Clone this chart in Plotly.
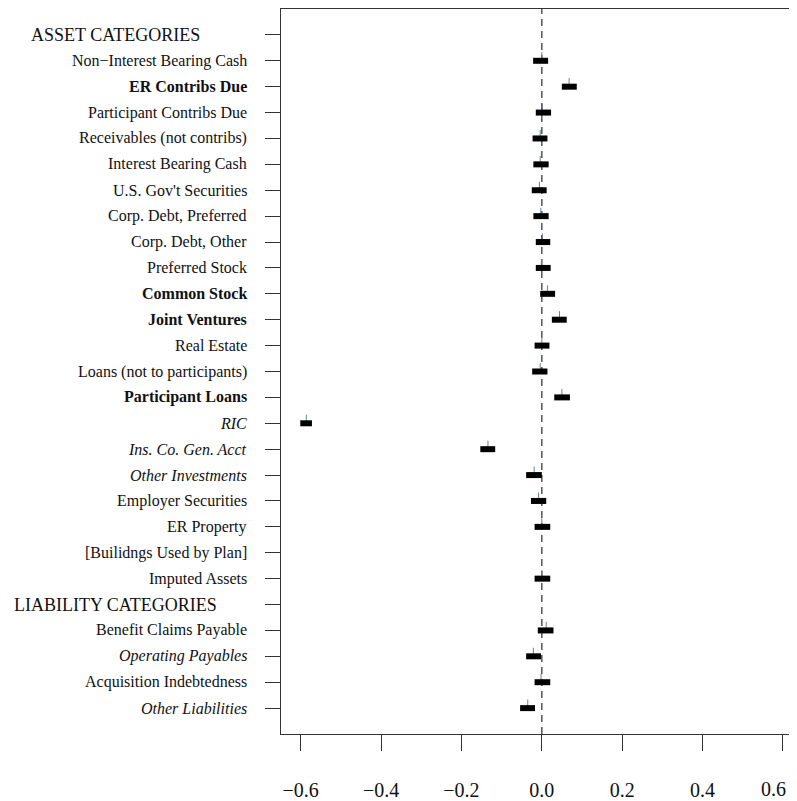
import plotly.graph_objects as go

labels = [
    "ASSET CATEGORIES", "Non−Interest Bearing Cash", "ER Contribs Due",
    "Participant Contribs Due", "Receivables (not contribs)", "Interest Bearing Cash",
    "U.S. Gov't Securities", "Corp. Debt, Preferred", "Corp. Debt, Other",
    "Preferred Stock", "Common Stock", "Joint Ventures", "Real Estate",
    "Loans (not to participants)", "Participant Loans", "RIC",
    "Ins. Co. Gen. Acct", "Other Investments", "Employer Securities",
    "ER Property", "[Builidngs Used by Plan]", "Imputed Assets",
    "LIABILITY CATEGORIES", "Benefit Claims Payable", "Operating Payables",
    "Acquisition Indebtedness", "Other Liabilities",
]
styles = [
    "header", "n", "b", "n", "n", "n", "n", "n", "n", "n", "b", "b", "n", "n", "b",
    "i", "i", "i", "n", "n", "n", "n", "header", "n", "i", "n", "i",
]
estimate = [None, 0.0, 0.068, 0.0015, -0.004, -0.004, -0.006, -0.0025, 0.0015, -0.001,
            0.014, 0.044, 0.0, -0.004, 0.050, -0.586, -0.134, -0.019, -0.008, 0.0,
            None, 0.0, None, 0.011, -0.021, -0.002, -0.035]
lower = [None, -0.0216, 0.0498, -0.015, -0.023, -0.021, -0.025, -0.021, -0.015, -0.015,
         -0.004, 0.025, -0.018, -0.024, 0.031, -0.601, -0.153, -0.039, -0.027, -0.018,
         None, -0.018, None, -0.010, -0.039, -0.018, -0.054]
upper = [None, 0.0157, 0.087, 0.023, 0.014, 0.017, 0.012, 0.017, 0.021, 0.022,
         0.033, 0.062, 0.019, 0.014, 0.070, -0.572, -0.116, 0.0, 0.011, 0.021,
         None, 0.021, None, 0.029, -0.002, 0.021, -0.017]
x_ticks = [-0.6, -0.4, -0.2, 0.0, 0.2, 0.4, 0.6]
x_ticktext = ["−0.6", "−0.4", "−0.2", "0.0", "0.2", "0.4", "0.6"]

n = len(labels)
pos = [n - i for i in range(n)]

# page body has an 8px margin; the figure is drawn from (8, 8)
OFF = 8
VISIBLE_RIGHT = 789  # the right-most page pixels are not shown
W, H = 797 - OFF, 801 - OFF
ML, MR, MT, MB = 281 - OFF, 0, 0, 62
pw = W - ML - MR
ph = H - MT - MB

FONT = "Liberation Serif, Times New Roman, serif"
TICKLEN, STANDOFF, TICKFS = 16, 22, 20

bx, by, tx, ty = [], [], [], []
for p, e, lo, hi in zip(pos, estimate, lower, upper):
    if e is None:
        continue
    bx += [lo, hi, None]
    by += [p, p, None]
    tx += [e, e, None]
    ty += [p, p + 0.33, None]

fig = go.Figure()
fig.add_trace(go.Scatter(x=tx, y=ty, mode="lines",
                         line=dict(color="#6f7f98", width=1), hoverinfo="skip"))
fig.add_trace(go.Scatter(x=bx, y=by, mode="lines",
                         line=dict(color="black", width=6), hoverinfo="skip"))

fig.add_shape(type="line", x0=0, x1=0, y0=0, y1=n + 1, xref="x", yref="y",
              line=dict(color="#555555", width=1.5, dash="7px,5px"), layer="below")

annotations = []
for p, lab, st in zip(pos, labels, styles):
    if st == "header":
        left_px = 29 if lab.startswith("ASSET") else 12
        annotations.append(dict(x=(left_px - OFF - ML) / pw, y=p, xref="paper", yref="y",
                                text=lab, showarrow=False, xanchor="left", yanchor="middle",
                                font=dict(family=FONT, size=18, color="#111111")))
    else:
        t = lab
        if st == "b":
            t = "<b>" + lab + "</b>"
        elif st == "i":
            t = "<i>" + lab + "</i>"
        annotations.append(dict(x=(249 - OFF - ML) / pw, y=p, xref="paper", yref="y",
                                text=t, showarrow=False, xanchor="right", yanchor="middle",
                                font=dict(family=FONT, size=16, color="#111111")))

# the last x tick label would be cut at the visible edge: draw it as an
# annotation pulled just inside the visible area
shown_ticktext = x_ticktext[:-1] + [""]
annotations.append(dict(x=(VISIBLE_RIGHT - 1 - OFF - ML) / pw, y=0, xref="paper", yref="paper",
                        text=x_ticktext[-1], showarrow=False, xanchor="right", yanchor="top",
                        yshift=-(TICKLEN + STANDOFF + 4),
                        font=dict(family=FONT, size=TICKFS, color="#111111")))

fig.update_layout(
    width=W, height=H, autosize=False,
    margin=dict(l=ML, r=MR, t=MT, b=MB, pad=0),
    paper_bgcolor="white", plot_bgcolor="white",
    showlegend=False,
    font=dict(family=FONT, color="#111111"),
    annotations=annotations,
    xaxis=dict(range=[-0.649, 0.635], tickvals=x_ticks, ticktext=shown_ticktext,
               ticks="outside", ticklen=TICKLEN, tickwidth=1, tickcolor="#333333",
               showline=True, linecolor="#333333", linewidth=1, mirror=True,
               showgrid=False, zeroline=False, ticklabelstandoff=STANDOFF,
               tickfont=dict(family=FONT, size=TICKFS, color="#111111")),
    yaxis=dict(range=[0, n + 1], tickvals=pos, showticklabels=False,
               ticks="outside", ticklen=15, tickwidth=1, tickcolor="#333333",
               showline=True, linecolor="#333333", linewidth=1, mirror=False,
               showgrid=False, zeroline=False),
)

fig.write_html("out.html", config={"responsive": False})
